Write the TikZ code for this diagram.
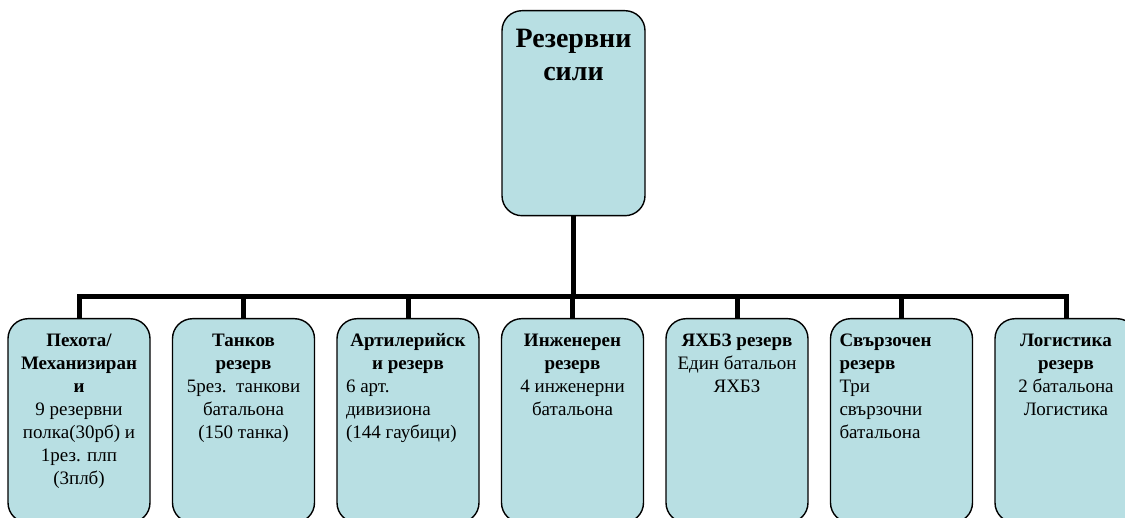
\documentclass[tikz,border=0pt]{standalone}
\usepackage{fontspec}
\setmainfont{Liberation Serif}
\newcommand\mychildfont{\fontsize{19}{23}\selectfont}
\newcommand\mytopfont{\fontsize{28}{32.5}\selectfont}
\definecolor{boxfill}{RGB}{184,223,227}
\begin{document}
\begin{tikzpicture}[x=1pt,y=-1pt,
  unitbox/.style={draw=black, line width=1.4pt, fill=boxfill, rounded corners=20pt,
    minimum width=142pt, minimum height=204pt, anchor=north, inner sep=0pt},
  topbox/.style={unitbox, minimum width=143pt, minimum height=205pt},
  txt/.style={anchor=north, inner sep=0pt},
  conn/.style={line width=5pt, line join=miter, line cap=butt}]
\useasboundingbox (0,0) rectangle (1125,518);
\clip (0,0) rectangle (1125,518);

\node[topbox] (top) at (573.5,10) {};
\node[unitbox] (b1) at (79,318) {};
\node[unitbox] (b2) at (243.5,318) {};
\node[unitbox] (b3) at (408,318) {};
\node[unitbox] (b4) at (572.5,318) {};
\node[unitbox] (b5) at (737,318) {};
\node[unitbox] (b6) at (901.5,318) {};
\node[unitbox] (b7) at (1066,318) {};

\coordinate (hub) at (573.5,297);
\draw[conn] (top.south) -- (hub);
\draw[conn] (b1.north) -- (b1.north |- hub) -- (b7.north |- hub) -- (b7.north);
\foreach \i in {2,...,6} \draw[conn] (b\i.north) -- (b\i.north |- hub);

\node[txt] (tt) at ([yshift=-15pt]top.north) {\parbox[t]{135pt}{\centering\mytopfont\strut\bfseries Резервни\\сили}};

\node[txt] (t1) at ([yshift=-12pt]b1.north) {\parbox[t]{126pt}{\centering\mychildfont\strut\bfseries Пехота/\\Механизиран\\и\\\mdseries 9 резервни\\полка(30рб) и\\1рез. плп\\(3плб)}};
\node[txt] (t2) at ([yshift=-12pt]b2.north) {\parbox[t]{126pt}{\centering\mychildfont\strut\bfseries Танков\\резерв\\\mdseries 5рез.\ \ танкови\\батальона\\(150 танка)}};
\node[txt] (t3) at ([yshift=-12pt]b3.north) {\parbox[t]{124pt}{\raggedright\mychildfont\strut\makebox[\linewidth][c]{\bfseries Артилерийск}\\\makebox[\linewidth][c]{\bfseries и резерв}\\6 арт.\\дивизиона\\(144 гаубици)}};
\node[txt] (t4) at ([yshift=-12pt]b4.north) {\parbox[t]{126pt}{\centering\mychildfont\strut\bfseries Инженерен\\резерв\\\mdseries 4 инженерни\\батальона}};
\node[txt] (t5) at ([yshift=-12pt]b5.north) {\parbox[t]{126pt}{\centering\mychildfont\strut\bfseries ЯХБЗ резерв\\\mdseries Един батальон\\ЯХБЗ}};
\node[txt] (t6) at ([yshift=-12pt]b6.north) {\parbox[t]{124pt}{\raggedright\mychildfont\strut\bfseries Свързочен\\резерв\\\mdseries Три\\свързочни\\батальона}};
\node[txt] (t7) at ([yshift=-12pt]b7.north) {\parbox[t]{126pt}{\centering\mychildfont\strut\bfseries Логистика\\резерв\\\mdseries 2 батальона\\Логистика}};
\end{tikzpicture}
\end{document}
